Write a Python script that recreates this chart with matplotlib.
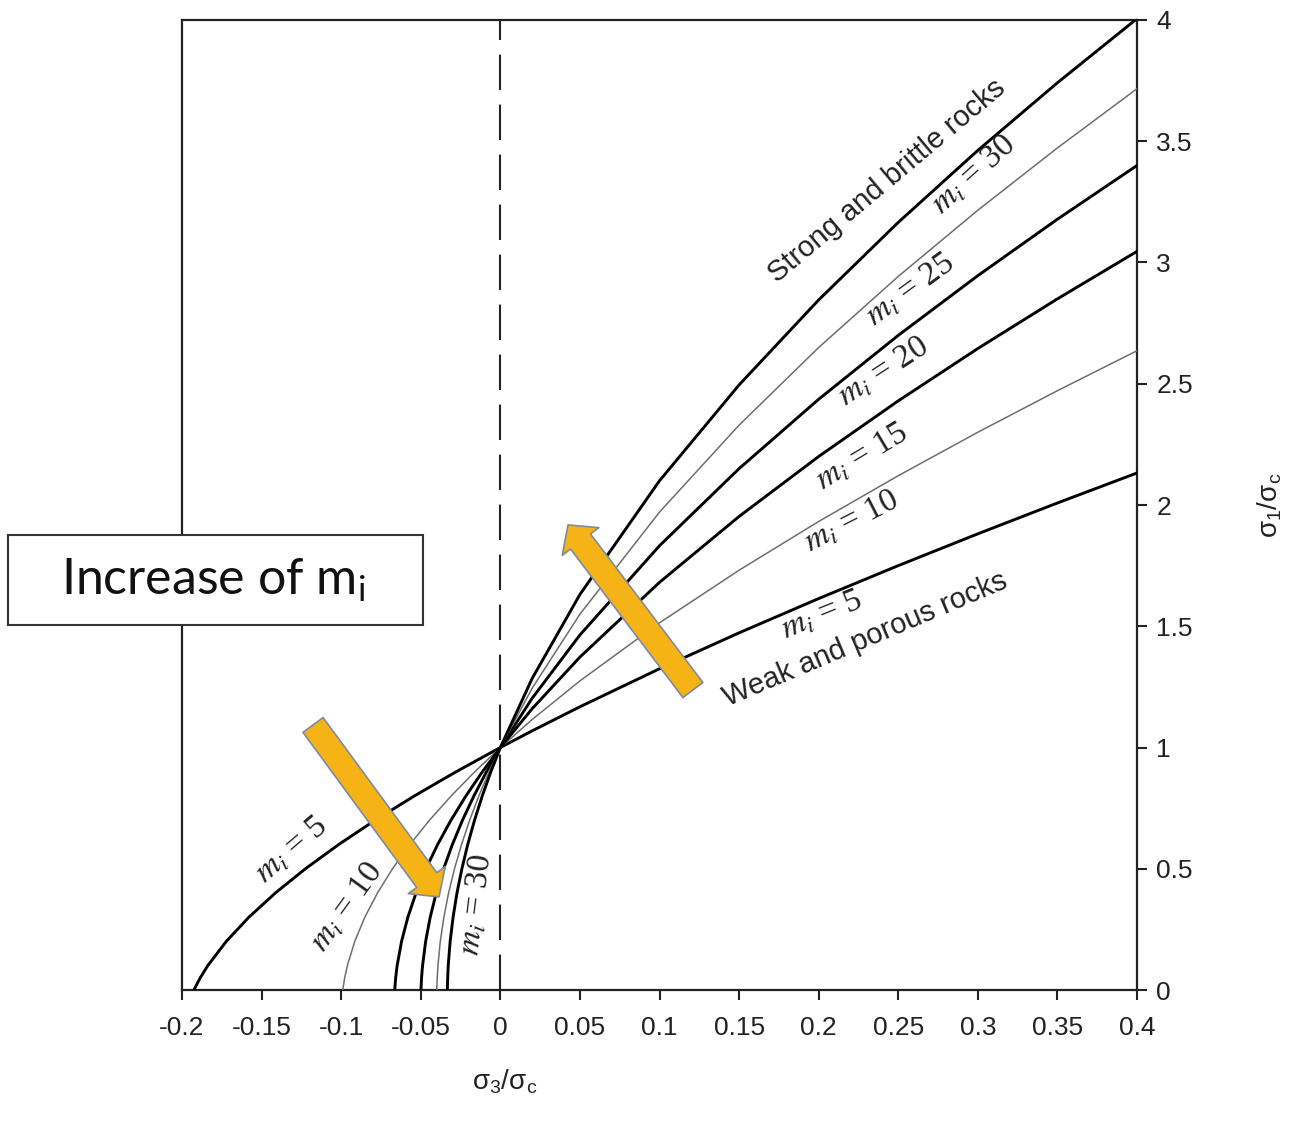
import matplotlib
matplotlib.use("Agg")
import matplotlib.pyplot as plt
from matplotlib.patches import Rectangle

plt.rcParams['font.family'] = ['Liberation Sans', 'DejaVu Sans']
plt.rcParams['mathtext.fontset'] = 'stix'

# sigma1/sigma_c values read along shared sigma3 steps (right of zero)
X_RIGHT = [0, 0.02, 0.05, 0.1, 0.15, 0.2, 0.25, 0.3, 0.35, 0.4]
# sigma3/sigma_c values read along shared sigma1 steps (left of zero)
Y_LEFT = [0, 0.05, 0.1, 0.2, 0.3, 0.4, 0.5, 0.6, 0.7, 0.8, 0.9]

m_values = [5, 10, 15, 20, 25, 30]

left_m5 = [-0.19258, -0.18861, -0.18388, -0.17228, -0.15804, -0.14138, -0.12250, -0.10156, -0.07872, -0.05410, -0.02782]
left_m10 = [-0.09902, -0.09782, -0.09615, -0.09151, -0.08517, -0.07723, -0.06776, -0.05685, -0.04457, -0.03095, -0.01608]
left_m15 = [-0.06637, -0.06577, -0.06486, -0.06209, -0.05812, -0.05299, -0.04674, -0.03941, -0.03104, -0.02166, -0.01130]
left_m20 = [-0.04988, -0.04951, -0.04889, -0.04695, -0.04408, -0.04031, -0.03565, -0.03015, -0.02381, -0.01665, -0.00871]
left_m25 = [-0.03994, -0.03968, -0.03922, -0.03774, -0.03550, -0.03252, -0.02881, -0.02440, -0.01930, -0.01353, -0.00709]
left_m30 = [-0.03330, -0.03310, -0.03275, -0.03155, -0.02971, -0.02725, -0.02417, -0.02050, -0.01623, -0.01139, -0.00597]

right_m5 = [1.0, 1.06881, 1.16803, 1.32474, 1.47288, 1.61421, 1.75, 1.88114, 2.00831, 2.13205]
right_m10 = [1.0, 1.11545, 1.27474, 1.51421, 1.73114, 1.93205, 2.12083, 2.3, 2.47132, 2.63607]
right_m15 = [1.0, 1.16018, 1.37288, 1.68114, 1.95278, 2.2, 2.42945, 2.64521, 2.85, 3.04575]
right_m20 = [1.0, 1.20322, 1.46421, 1.83205, 2.15, 2.43607, 2.69949, 2.94575, 3.17843, 3.4]
right_m25 = [1.0, 1.24474, 1.55, 1.97083, 2.32945, 2.64949, 2.94258, 3.21548, 3.47250, 3.71662]
right_m30 = [1.0, 1.28491, 1.63114, 2.1, 2.49521, 2.84575, 3.16548, 3.46228, 3.74116, 4.00555]

lefts = [left_m5, left_m10, left_m15, left_m20, left_m25, left_m30]
rights = [right_m5, right_m10, right_m15, right_m20, right_m25, right_m30]

x_ticks = [-0.2, -0.15, -0.1, -0.05, 0, 0.05, 0.1, 0.15, 0.2, 0.25, 0.3, 0.35, 0.4]
x_ticklabels = ['-0.2', '-0.15', '-0.1', '-0.05', '0', '0.05', '0.1', '0.15', '0.2', '0.25', '0.3', '0.35', '0.4']
y_ticks = [0, 0.5, 1, 1.5, 2, 2.5, 3, 3.5, 4]
y_ticklabels = ['0', '0.5', '1', '1.5', '2', '2.5', '3', '3.5', '4']

fig = plt.figure(figsize=(13.03, 11.29), dpi=100)
ax = fig.add_axes([0.1397, 0.1231, 0.7329, 0.8592])

for m, lx, ry in zip(m_values, lefts, rights):
    xs = lx + X_RIGHT
    ys = Y_LEFT + ry
    if m in (10, 25):
        ax.plot(xs, ys, color='#6e6e6e', lw=1.1, zorder=3)
    else:
        ax.plot(xs, ys, color='black', lw=2.1, zorder=3)

ax.axvline(0, color='#222222', lw=1.5, dashes=(17, 7), zorder=2)

ax.set_xlim(-0.2, 0.4)
ax.set_ylim(0, 4)
for s in ax.spines.values():
    s.set_linewidth(1.6)
    s.set_color('#222222')

ax.set_xticks(x_ticks)
ax.set_xticklabels(x_ticklabels, fontsize=19)
ax.set_yticks(y_ticks)
ax.set_yticklabels(y_ticklabels, fontsize=19)
ax.yaxis.tick_right()
ax.tick_params(axis='x', direction='out', length=7, width=1.5, pad=12, colors='#222222')
ax.tick_params(axis='y', direction='out', length=7, width=1.5, pad=7, colors='#222222')

ax.text(0.338, -0.095, r'$\mathregular{\sigma_3/\sigma_c}$', transform=ax.transAxes,
        ha='center', va='center', fontsize=20, color='#222222')
ax.text(1.139, 0.5, r'$\mathregular{\sigma_1/\sigma_c}$', transform=ax.transAxes,
        ha='center', va='center', fontsize=20, rotation=90, color='#222222')

# curve labels
serif = dict(family='Liberation Serif', fontsize=24, ha='center', va='center',
             rotation_mode='anchor', color='#222222', zorder=4)
ax.text(0.2975, 3.360, r'$m_i$ = 30', rotation=42, **serif)
ax.text(0.2574, 2.887, r'$m_i$ = 25', rotation=36, **serif)
ax.text(0.2410, 2.548, r'$m_i$ = 20', rotation=33, **serif)
ax.text(0.2272, 2.198, r'$m_i$ = 15', rotation=31, **serif)
ax.text(0.2209, 1.930, r'$m_i$ = 10', rotation=27, **serif)
ax.text(0.2021, 1.546, r'$m_i$ = 5', rotation=22, **serif)
ax.text(-0.1309, 0.577, r'$m_i$ = 5', rotation=40.6, **serif)
ax.text(-0.0963, 0.342, r'$m_i$ = 10', rotation=54, **serif)
ax.text(-0.0147, 0.351, r'$m_i$ = 30', rotation=83, **serif)

ax.text(0.2430, 3.335, 'Strong and brittle rocks', rotation=40, fontsize=21,
        ha='center', va='center', rotation_mode='anchor', color='#222222')
ax.text(0.2291, 1.445, 'Weak and porous rocks', rotation=23, fontsize=21,
        ha='center', va='center', rotation_mode='anchor', color='#222222')

# orange arrows
arrow_style = 'simple,head_length=15,head_width=33,tail_width=18'
ax.annotate('', xy=(0.0425, 1.918), xytext=(0.121, 1.237),
            arrowprops=dict(arrowstyle=arrow_style, mutation_scale=1, fc='#f5b316',
                            ec='#7d8ca0', lw=1.2, shrinkA=0, shrinkB=0), zorder=5)
ax.annotate('', xy=(-0.0385, 0.384), xytext=(-0.1177, 1.093),
            arrowprops=dict(arrowstyle=arrow_style, mutation_scale=1, fc='#f5b316',
                            ec='#7d8ca0', lw=1.2, shrinkA=0, shrinkB=0), zorder=5)

# "Increase of m_i" box
box = Rectangle((0.0061, 0.4464), 0.3185, 0.0797, transform=fig.transFigure,
                fc='white', ec='#333333', lw=1.5, zorder=5)
fig.patches.append(box)
fig.text(0.1640, 0.4862, r'Increase of $\mathregular{m_i}$', family='Lato', fontsize=36,
         ha='center', va='center', color='#111111', zorder=6)

fig.savefig('out.png', dpi=100)
